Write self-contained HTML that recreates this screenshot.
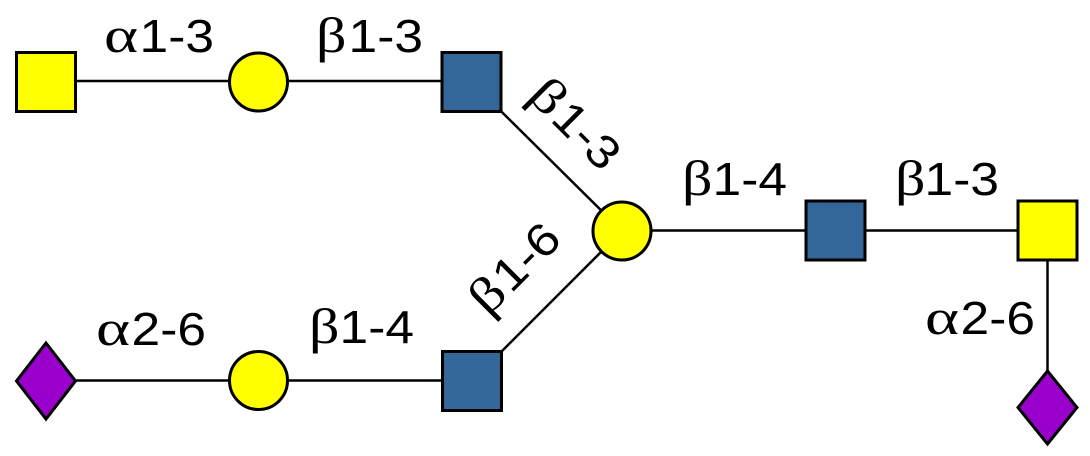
<!DOCTYPE html>
<html>
<head>
<meta charset="utf-8">
<style>
  html, body { margin: 0; padding: 0; background: #ffffff; }
  body { width: 1090px; height: 456px; overflow: hidden; }
  svg { display: block; }
  .d { font-family: "Liberation Sans", Arial, sans-serif; font-size: 46px; fill: #000; }
  .g { font-family: "Liberation Serif", "DejaVu Serif", serif; font-size: 50px; fill: #000; }
</style>
</head>
<body>
<svg width="1090" height="456" viewBox="0 0 1090 456" xmlns="http://www.w3.org/2000/svg">
  <rect x="0" y="0" width="1090" height="456" fill="#ffffff"/>

  <!-- connectors -->
  <g stroke="#000" stroke-width="2.5" fill="none">
    <line x1="46" y1="81" x2="471.5" y2="81"/>
    <line x1="471.5" y1="82" x2="622" y2="231"/>
    <line x1="472" y1="381" x2="622" y2="231"/>
    <line x1="622" y1="230.5" x2="1047.5" y2="230.5"/>
    <line x1="1047.5" y1="230.5" x2="1047.5" y2="407.5"/>
    <line x1="46" y1="380.5" x2="472" y2="380.5"/>
  </g>

  <!-- nodes -->
  <g stroke="#000" stroke-width="3">
    <rect x="16.5" y="52.5" width="59" height="59" fill="#FFFF00"/>
    <circle cx="258.5" cy="82" r="29" fill="#FFFF00"/>
    <rect x="442" y="52.5" width="59" height="59" fill="#336699"/>

    <circle cx="622" cy="231" r="29" fill="#FFFF00"/>

    <rect x="806" y="201" width="59" height="59" fill="#336699"/>
    <rect x="1018" y="201" width="59" height="59" fill="#FFFF00"/>
    <polygon points="1047.5,371 1077,407.5 1047.5,444 1018,407.5" fill="#9900CC"/>

    <polygon points="46,343 75.5,381 46,419 16.5,381" fill="#9900CC"/>
    <circle cx="258.5" cy="380.5" r="29" fill="#FFFF00"/>
    <rect x="442.5" y="351.5" width="59" height="59" fill="#336699"/>
  </g>

  <!-- labels: top row -->
  <text class="g" transform="translate(104,52) scale(1.3,1)">α</text>
  <text class="d" text-anchor="end" transform="translate(214,52) scale(1.12,1)">1-3</text>

  <text class="g" transform="translate(316,52) scale(1.2,1)">β</text>
  <text class="d" text-anchor="end" transform="translate(423,52) scale(1.12,1)">1-3</text>

  <!-- labels: right chain -->
  <text class="g" transform="translate(682,195) scale(1.2,1)">β</text>
  <text class="d" text-anchor="end" transform="translate(787,195) scale(1.12,1)">1-4</text>

  <text class="g" transform="translate(895,195) scale(1.2,1)">β</text>
  <text class="d" text-anchor="end" transform="translate(999,195) scale(1.12,1)">1-3</text>

  <text class="g" transform="translate(925,334) scale(1.3,1)">α</text>
  <text class="d" text-anchor="end" transform="translate(1035,334) scale(1.12,1)">2-6</text>

  <!-- labels: bottom row -->
  <text class="g" transform="translate(96,345) scale(1.3,1)">α</text>
  <text class="d" text-anchor="end" transform="translate(206,345) scale(1.12,1)">2-6</text>

  <text class="g" transform="translate(309,343) scale(1.2,1)">β</text>
  <text class="d" text-anchor="end" transform="translate(414,343) scale(1.12,1)">1-4</text>

  <!-- rotated labels -->
  <g transform="translate(563.7,134.7) rotate(45)">
    <text class="g" transform="translate(-53,0) scale(1.2,1)">β</text>
    <text class="d" text-anchor="end" transform="translate(54,0) scale(1.12,1)">1-3</text>
  </g>
  <g transform="translate(525.5,279.7) rotate(-45)">
    <text class="g" transform="translate(-53,0) scale(1.2,1)">β</text>
    <text class="d" text-anchor="end" transform="translate(54,0) scale(1.12,1)">1-6</text>
  </g>
</svg>
</body>
</html>
